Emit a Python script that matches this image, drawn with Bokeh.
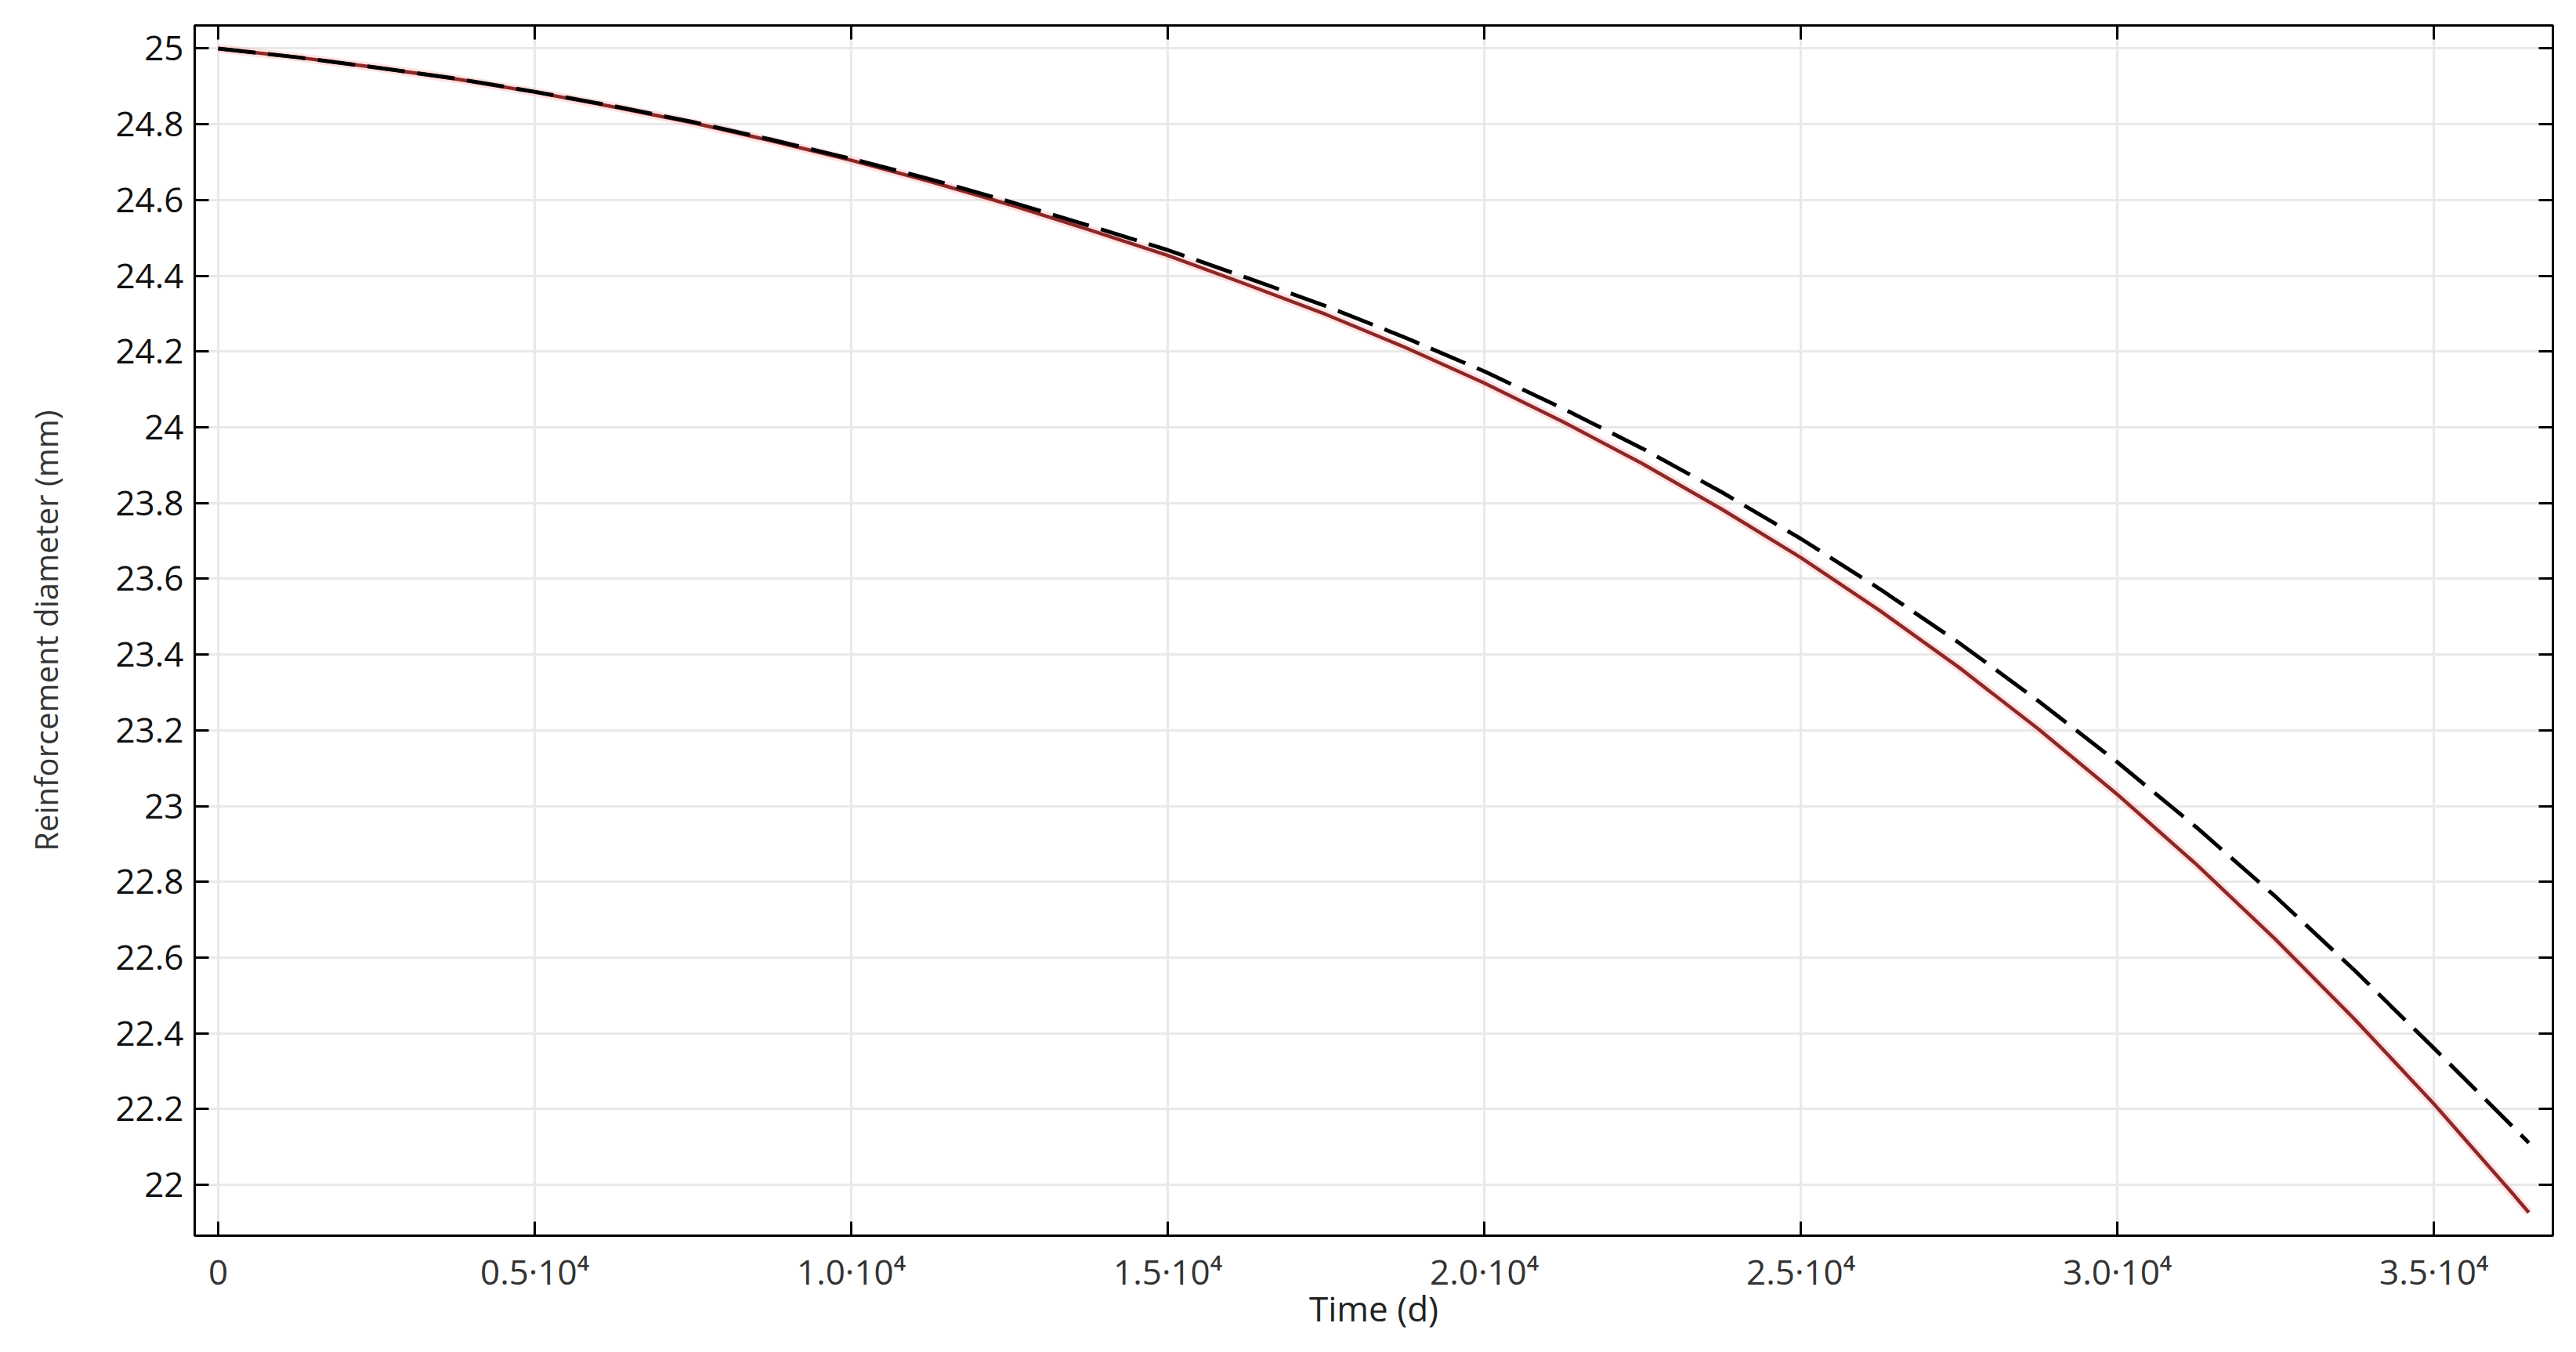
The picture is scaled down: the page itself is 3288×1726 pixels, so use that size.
from bokeh.plotting import figure
from bokeh.models import FixedTicker, LinearAxis, Range1d, ColumnDataSource
from bokeh.embed import file_html
from bokeh.resources import INLINE

# ---- data ----
time_d = [0, 1250, 2500, 3750, 5000, 6250, 7500, 8750, 10000, 11250, 12500,
          13750, 15000, 16250, 17500, 18750, 20000, 21250, 22500, 23750,
          25000, 26250, 27500, 28750, 30000, 31250, 32500, 33750, 35000,
          36250, 36500]
diam_red = [25.000, 24.977, 24.950, 24.920, 24.885, 24.846, 24.804, 24.756,
            24.705, 24.649, 24.588, 24.522, 24.454, 24.377, 24.298, 24.211,
            24.117, 24.014, 23.904, 23.784, 23.656, 23.516, 23.366, 23.204,
            23.031, 22.846, 22.648, 22.437, 22.214, 21.976, 21.927]
diam_dash = [25.000, 24.977, 24.950, 24.921, 24.886, 24.848, 24.806, 24.759,
             24.709, 24.655, 24.596, 24.533, 24.468, 24.395, 24.320, 24.237,
             24.148, 24.049, 23.944, 23.829, 23.706, 23.573, 23.431, 23.278,
             23.116, 22.944, 22.761, 22.566, 22.361, 22.153, 22.111]

x_ticks = [0, 5000, 10000, 15000, 20000, 25000, 30000, 35000]
x_tick_labels = ["0", "0.5·10⁴", "1.0·10⁴", "1.5·10⁴", "2.0·10⁴",
                 "2.5·10⁴", "3.0·10⁴", "3.5·10⁴"]
y_ticks = [22.0, 22.2, 22.4, 22.6, 22.8, 23.0, 23.2, 23.4, 23.6, 23.8,
           24.0, 24.2, 24.4, 24.6, 24.8, 25.0]
y_tick_labels = ["22", "22.2", "22.4", "22.6", "22.8", "23", "23.2", "23.4",
                 "23.6", "23.8", "24", "24.2", "24.4", "24.6", "24.8", "25"]

x_label = "Time (d)"
y_label = "Reinforcement diameter (mm)"

FONT = "Open Sans"

src = ColumnDataSource(dict(t=time_d, red=diam_red, dash=diam_dash))

p = figure(width=3288, height=1726, output_backend="svg", toolbar_location=None,
           x_range=Range1d(-371, 36880), y_range=Range1d(21.866, 25.061),
           min_border_left=248, min_border_right=30, min_border_top=32,
           min_border_bottom=149)
p.background_fill_color = "white"
p.border_fill_color = "white"
p.outline_line_color = "black"
p.outline_line_width = 3

# grid
for g in (p.xgrid, p.ygrid):
    g.grid_line_color = "#e9e9e9"
    g.grid_line_width = 3
p.xgrid.ticker = FixedTicker(ticks=x_ticks)
p.ygrid.ticker = FixedTicker(ticks=y_ticks)

# main axes
xa = p.xaxis[0]
ya = p.yaxis[0]
xa.ticker = FixedTicker(ticks=x_ticks)
ya.ticker = FixedTicker(ticks=y_ticks)
xa.major_label_overrides = {k: v for k, v in zip(x_ticks, x_tick_labels)}
ya.major_label_overrides = {k: v for k, v in zip(y_ticks, y_tick_labels)}
xa.axis_label = x_label
ya.axis_label = y_label

for ax in (xa, ya):
    ax.axis_line_color = "black"
    ax.axis_line_width = 3
    ax.major_tick_in = 18
    ax.major_tick_out = 0
    ax.major_tick_line_width = 3
    ax.major_tick_line_color = "black"
    ax.minor_tick_line_color = None
    ax.major_label_text_font = FONT
    ax.major_label_text_font_size = "44px"
    ax.axis_label_text_font = FONT
    ax.axis_label_text_font_style = "normal"

xa.major_label_text_color = "#333333"
ya.major_label_text_color = "#111111"
xa.major_label_standoff = 15
ya.major_label_standoff = 14
xa.axis_label_text_font_size = "44px"
ya.axis_label_text_font_size = "40px"
xa.axis_label_text_color = "#222222"
ya.axis_label_text_color = "#333333"
xa.axis_label_standoff = -16
ya.axis_label_standoff = 58

# mirrored axes (ticks only) on top and right
top = LinearAxis(ticker=FixedTicker(ticks=x_ticks))
right = LinearAxis(ticker=FixedTicker(ticks=y_ticks))
for ax in (top, right):
    ax.axis_line_color = "black"
    ax.axis_line_width = 3
    ax.major_tick_in = 18
    ax.major_tick_out = 0
    ax.major_tick_line_width = 3
    ax.minor_tick_line_color = None
    ax.major_label_text_font_size = "0px"
    ax.major_label_text_color = None
    ax.major_label_standoff = 0
p.add_layout(top, "above")
p.add_layout(right, "right")

# curves
p.line("t", "red", source=src, line_color="#ff9a9a", line_width=11, line_alpha=0.3)
p.line("t", "red", source=src, line_color="#8c2828", line_width=4.5)
p.line("t", "dash", source=src, line_color="black", line_width=5,
       line_dash="48 16")

open("out.html", "w").write(file_html(p, INLINE))
